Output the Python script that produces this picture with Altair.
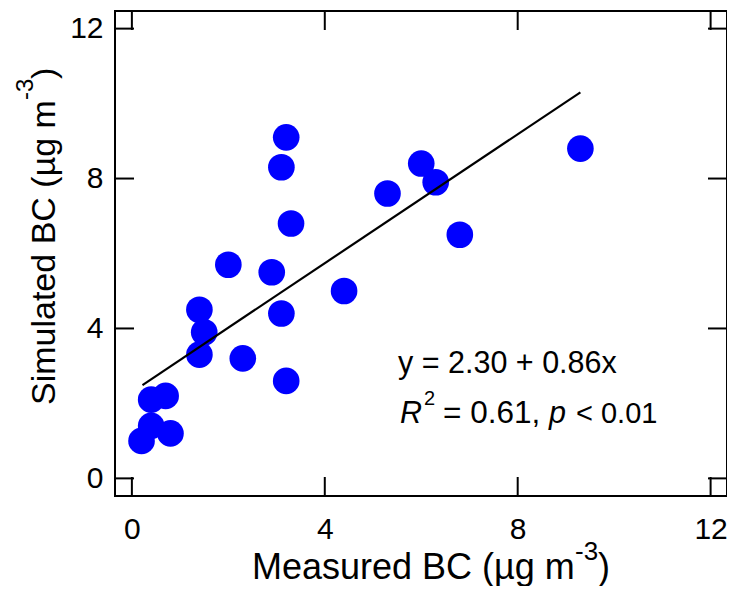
import altair as alt
import pandas as pd

# Data
measured = [3.2, 3.1, 3.3, 2.0, 2.9, 3.1, 4.4, 5.3, 6.0, 6.3, 6.8, 9.3,
            1.4, 1.5, 1.4, 2.3, 3.2, 0.4, 0.7, 0.4, 0.8, 0.2]
simulated = [9.1, 8.3, 6.8, 5.7, 5.5, 4.4, 5.0, 7.6, 8.4, 7.9, 6.5, 8.8,
             4.5, 3.9, 3.3, 3.2, 2.6, 2.1, 2.2, 1.4, 1.2, 1.0]
fit_x = [0.22, 9.3]
fit_y = [2.49, 10.30]
tick_values = [0, 4, 8, 12]

W, H = 612, 485
FONT = "Liberation Sans"
XDOM = [-0.35, 12.34]
YDOM = [-0.47, 12.47]

pts = pd.DataFrame({"x": measured, "y": simulated})
fit = pd.DataFrame({"x": fit_x, "y": fit_y})
ticks = pd.DataFrame({"v": tick_values})

xs = alt.Scale(domain=XDOM, nice=False, zero=False)
ys = alt.Scale(domain=YDOM, nice=False, zero=False)

xaxis = alt.Axis(values=tick_values, ticks=False, domain=False, grid=False,
                 labelFontSize=30, labelFont=FONT, labelColor="black",
                 labelPadding=18, title=None, labelOverlap=False)
yaxis = alt.Axis(values=tick_values, ticks=False, domain=False, grid=False,
                 labelFontSize=30, labelFont=FONT, labelColor="black",
                 labelPadding=12, title=None, labelOverlap=False)

points = alt.Chart(pts).mark_circle(size=710, color="#0000ff", opacity=1).encode(
    x=alt.X("x:Q", scale=xs, axis=xaxis),
    y=alt.Y("y:Q", scale=ys, axis=yaxis),
)

line = alt.Chart(fit).mark_line(color="black", strokeWidth=2.2).encode(
    x=alt.X("x:Q", scale=xs), y=alt.Y("y:Q", scale=ys)
)

tk = dict(color="black", strokeWidth=2)
tick_b = alt.Chart(ticks).mark_rule(**tk).encode(
    x=alt.X("v:Q", scale=xs), y=alt.value(H), y2=alt.value(H - 19))
tick_t = alt.Chart(ticks).mark_rule(**tk).encode(
    x=alt.X("v:Q", scale=xs), y=alt.value(0), y2=alt.value(19))
tick_l = alt.Chart(ticks).mark_rule(**tk).encode(
    y=alt.Y("v:Q", scale=ys), x=alt.value(0), x2=alt.value(19))
tick_r = alt.Chart(ticks).mark_rule(**tk).encode(
    y=alt.Y("v:Q", scale=ys), x=alt.value(W), x2=alt.value(W - 19))


def txt(s, x, y, size, angle=0, italic=False):
    return alt.Chart(pd.DataFrame({"t": [s]})).mark_text(
        align="left", baseline="alphabetic", fontSize=size, font=FONT,
        fontStyle="italic" if italic else "normal", angle=angle, color="black"
    ).encode(x=alt.value(x), y=alt.value(y), text="t:N")


texts = [
    # x title
    txt("Measured BC (µg m", 137, 568, 36),
    txt("-3", 460, 549, 26),
    txt(")", 483, 568, 36),
    # y title (rotated)
    txt("Simulated BC (µg m", -60, 394, 34, angle=270),
    txt("-3", -82, 89, 24, angle=270),
    txt(")", -60, 68, 34, angle=270),
    # regression annotation
    txt("y = 2.30 + 0.86x", 283, 362, 30.5),
    txt("R", 285, 412, 30.5, italic=True),
    txt("2", 309, 394, 20),
    txt("= 0.61,", 328, 412, 31.5),
    txt("p", 434, 412, 30.5, italic=True),
    txt("< 0.01", 461, 412, 29),
]

chart = alt.layer(points, line, tick_b, tick_t, tick_l, tick_r, *texts).properties(
    width=W, height=H,
    autosize=alt.AutoSizeParams(type="none"),
    padding={"left": 107, "top": 3, "right": 0, "bottom": 90},
    background="white",
).configure_view(stroke="black", strokeWidth=2)

chart.save("out.html", embed_options={"renderer": "svg", "actions": False})
